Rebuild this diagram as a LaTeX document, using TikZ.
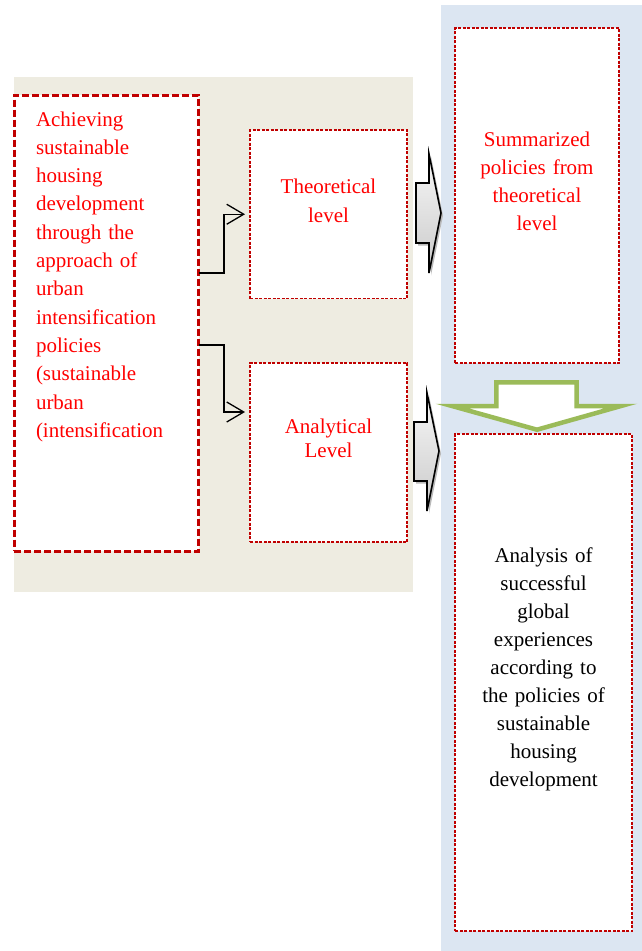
\documentclass[tikz,border=0pt]{standalone}
\usepackage{fontspec}
\setmainfont{Liberation Serif}
\usetikzlibrary{arrows.meta}
\definecolor{boxred}{RGB}{192,0,0}
\definecolor{txtred}{RGB}{255,0,0}
\definecolor{paper}{RGB}{238,236,225}
\definecolor{pale}{RGB}{220,230,242}
\definecolor{leaf}{RGB}{155,187,89}

\tikzset{
  mainbox/.style={draw=boxred, line width=3pt, dash pattern=on 7pt off 3pt,
    fill=white, inner sep=0pt, outer sep=0pt},
  subbox/.style={draw=boxred, line width=1.1pt, dash pattern=on 3pt off 1.5pt,
    fill=white, inner sep=0pt, outer sep=0pt},
  lbl/.style={inner sep=0pt, outer sep=0pt, anchor=base, align=center},
  redlbl/.style={lbl, text=txtred},
  conn/.style={draw=black, line width=1.3pt,
    -{Straight Barb[length=17pt,width=20pt,line width=1.3pt]}},
  blockarrow/.style={draw=black, line width=1.6pt, line join=miter,
    top color=gray!6, bottom color=gray!42},
  arrowshadow/.style={fill=gray!55, draw=none},
  hollowarrow/.style={draw=leaf, line width=4.5pt, fill=white, line join=miter},
}

\begin{document}
\begin{tikzpicture}[x=1pt, y=-1pt]
  \useasboundingbox (0,0) rectangle (642,951);

  % background panels
  \fill[paper] (14,77) rectangle (413,592);
  \fill[pale] (441,5) rectangle (642,951);

  % boxes
  \node[mainbox, minimum width=184.7pt, minimum height=456pt] (main) at (106.35,323) {};
  \node[subbox, minimum width=157pt, minimum height=168.5pt] (theo) at (328.5,214.25) {};
  \node[subbox, minimum width=157pt, minimum height=179pt] (ana) at (328.5,452.5) {};
  \node[subbox, minimum width=164pt, minimum height=335pt] (summ) at (537,195.5) {};
  \node[subbox, minimum width=177pt, minimum height=497pt] (exp) at (543.5,682.5) {};

  % box texts
  \node[redlbl, anchor=base west, align=left, text width=165pt,
        font=\fontsize{21}{28.3}\selectfont] (mainlbl) at (36,126)
    {Achieving\\ sustainable\\ housing\\ development\\ through the\\ approach of\\ urban\\
     intensification\\ policies\\ (sustainable\\ urban\\ (intensification};
  \node[redlbl, text width=150pt, font=\fontsize{21}{29}\selectfont] (theolbl) at (328.5,193)
    {Theoretical\\ level};
  \node[redlbl, text width=150pt, font=\fontsize{21}{24}\selectfont] (analbl) at (328.5,433)
    {Analytical\\ Level};
  \node[redlbl, text width=160pt, font=\fontsize{21}{28}\selectfont] (summlbl) at (537,146)
    {Summarized\\ policies from\\ theoretical\\ level};
  \node[lbl, text width=170pt, font=\fontsize{21}{28.1}\selectfont] (explbl) at (543.5,562)
    {Analysis of\\ successful\\ global\\ experiences\\ according to\\ the policies of\\
     sustainable\\ housing\\ development};

  % elbow connectors from the main box
  \coordinate (c1) at (198.7,273);
  \coordinate (c2) at (198.7,345);
  \draw[conn] (c1) -- ++(25.3,0) |- ([xshift=-5pt]theo.west);
  \draw[conn] (c2) -- ++(25.3,0) |- ([xshift=-5pt,yshift=40.5pt]ana.west);

  % grey block arrows
  \fill[arrowshadow, xshift=2pt, yshift=-2.5pt]
    (416,183) -- (429,183) -- (429,154) -- (441,213) -- (429,273) -- (429,243) -- (416,243) -- cycle;
  \path[blockarrow]
    (416,183) -- (429,183) -- (429,154) -- (441,213) -- (429,273) -- (429,243) -- (416,243) -- cycle;
  \fill[arrowshadow, xshift=2pt, yshift=-2.5pt]
    (414,422) -- (427,422) -- (427,393) -- (439,451) -- (427,511) -- (427,481) -- (414,481) -- cycle;
  \path[blockarrow]
    (414,422) -- (427,422) -- (427,393) -- (439,451) -- (427,511) -- (427,481) -- (414,481) -- cycle;

  % green hollow down arrow
  \path[hollowarrow]
    (496.3,382.3) -- (576.7,382.3) -- (576.7,406) -- (621,406) -- (537,429.7)
    -- (452,406) -- (496.3,406) -- cycle;
\end{tikzpicture}
\end{document}
